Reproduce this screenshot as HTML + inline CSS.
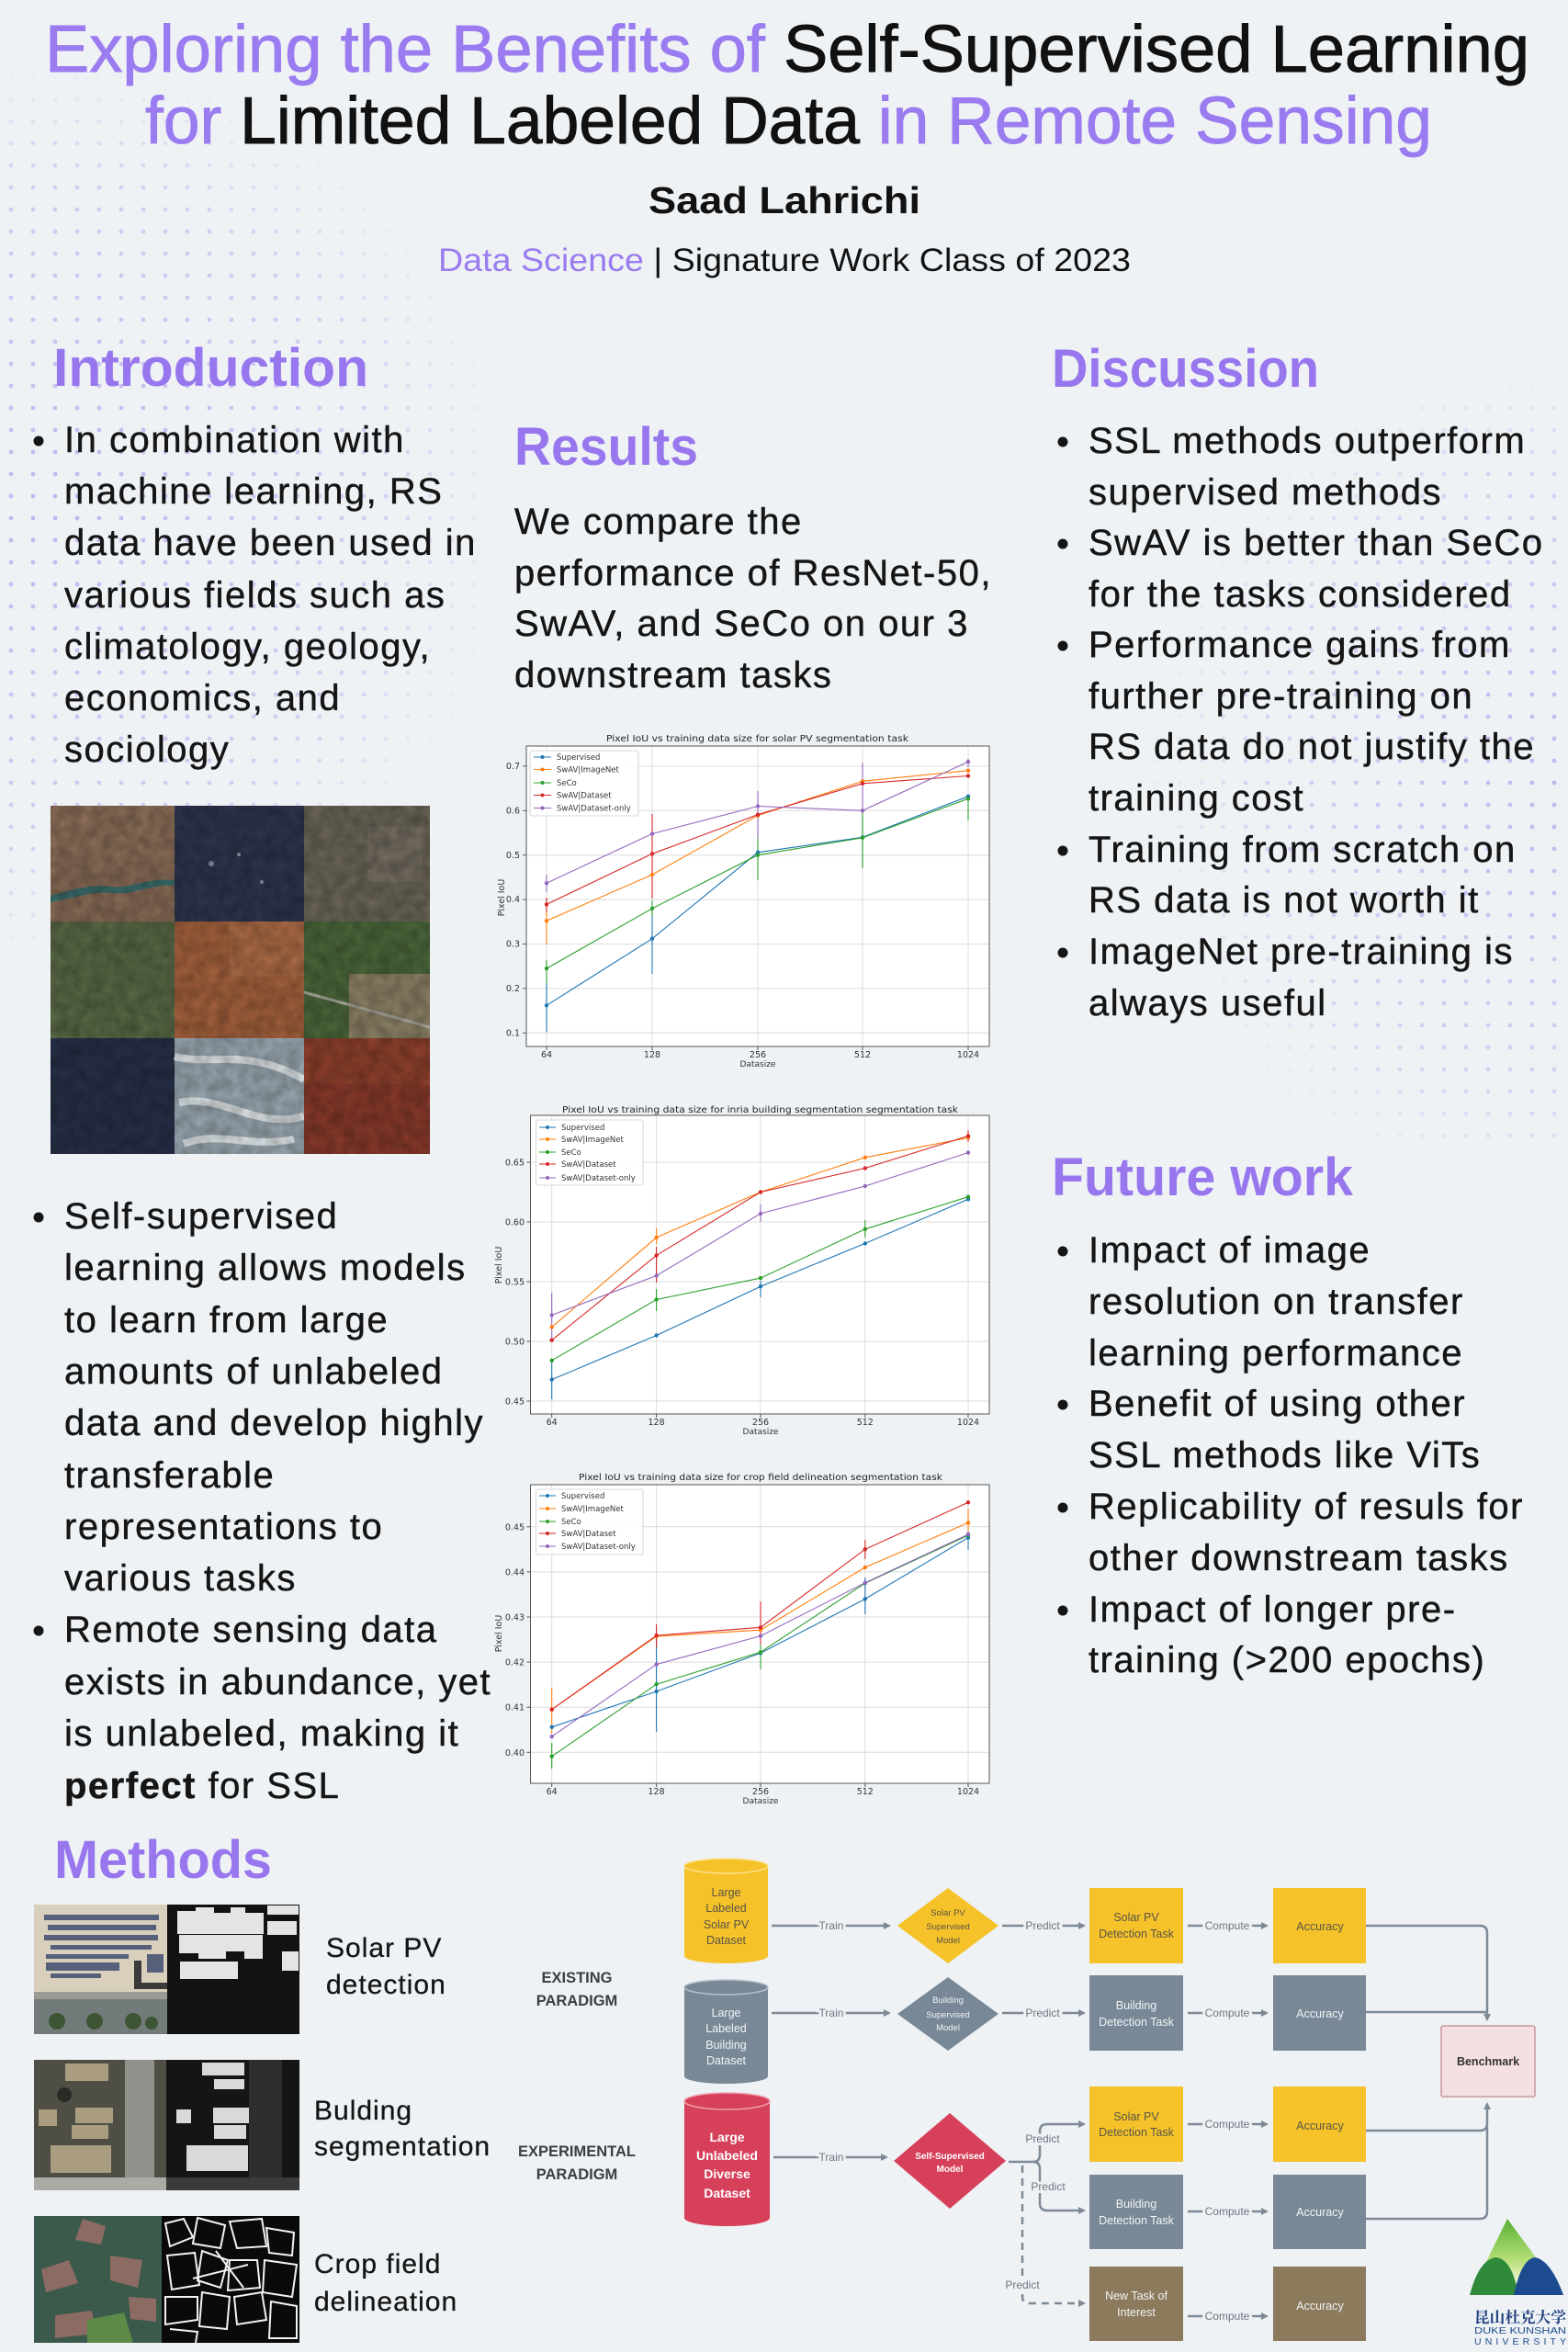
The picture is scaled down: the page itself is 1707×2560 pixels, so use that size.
<!DOCTYPE html>
<html><head><meta charset="utf-8"><style>
html,body{margin:0;padding:0;background:#eef2f5;}
svg{display:block;}
.b{font-family:"Liberation Sans",sans-serif;font-size:40px;letter-spacing:1.5px;fill:#151515;stroke:#151515;stroke-width:0.45px;}
.h{font-family:"Liberation Sans",sans-serif;font-size:58px;font-weight:bold;fill:#9877ee;}
.ax{font-family:"DejaVu Sans","Liberation Sans",sans-serif;font-size:9.5px;fill:#333;}
.lg{font-family:"DejaVu Sans","Liberation Sans",sans-serif;font-size:8.5px;fill:#333;}
.ti{font-family:"DejaVu Sans","Liberation Sans",sans-serif;font-size:9.5px;fill:#222;}
.f{font-family:"Liberation Sans Narrow","Liberation Sans",sans-serif;font-size:12.5px;text-anchor:middle;}
.fl{font-family:"Liberation Sans Narrow","Liberation Sans",sans-serif;font-size:12px;text-anchor:middle;fill:#6b7580;stroke:#eef2f5;stroke-width:6px;paint-order:stroke;}
.fd{font-family:"Liberation Sans Narrow","Liberation Sans",sans-serif;font-size:9.5px;text-anchor:middle;}
.par{font-family:"Liberation Sans Narrow","Liberation Sans",sans-serif;font-size:16.5px;font-weight:bold;text-anchor:middle;fill:#3a3f45;}
.m{font-family:"Liberation Sans",sans-serif;font-size:30px;letter-spacing:1px;fill:#151515;stroke:#151515;stroke-width:0.3px;}
</style></head><body>
<svg width="1707" height="2560" viewBox="0 0 1707 2560" xmlns="http://www.w3.org/2000/svg">
<defs>
<pattern id="dots" width="24" height="24" patternUnits="userSpaceOnUse"><circle cx="12" cy="12" r="2.4" fill="#bfb6ef"/></pattern>
<radialGradient id="mg1" cx="60" cy="560" r="500" gradientUnits="userSpaceOnUse"><stop offset="0" stop-color="#fff" stop-opacity="1"/><stop offset="0.7" stop-color="#fff" stop-opacity="0.6"/><stop offset="1" stop-color="#fff" stop-opacity="0"/></radialGradient>
<radialGradient id="mg2" cx="1707" cy="850" r="470" gradientUnits="userSpaceOnUse"><stop offset="0" stop-color="#fff" stop-opacity="1"/><stop offset="0.7" stop-color="#fff" stop-opacity="0.55"/><stop offset="1" stop-color="#fff" stop-opacity="0"/></radialGradient>
<mask id="mk1"><rect width="1707" height="2560" fill="url(#mg1)"/></mask>
<mask id="mk2"><rect width="1707" height="2560" fill="url(#mg2)"/></mask>
<marker id="ah" markerWidth="8" markerHeight="8" refX="6" refY="4" orient="auto" markerUnits="userSpaceOnUse"><path d="M0,0 L8,4 L0,8 z" fill="#7d8a96"/></marker>
<linearGradient id="lgr" x1="0" y1="0" x2="0" y2="1"><stop offset="0" stop-color="#57b032"/><stop offset="0.55" stop-color="#b8e07a"/><stop offset="0.85" stop-color="#f4f8d8"/></linearGradient>
<filter id="noise" x="0" y="0" width="1" height="1"><feTurbulence type="fractalNoise" baseFrequency="0.08" numOctaves="2" seed="3"/><feColorMatrix type="matrix" values="0 0 0 0 0  0 0 0 0 0  0 0 0 0 0  0 0 0 0.35 0"/><feComposite in2="SourceGraphic" operator="in"/></filter>
</defs>
<rect width="1707" height="2560" fill="#eef2f5"/>
<rect x="0" y="80" width="560" height="1000" fill="url(#dots)" mask="url(#mk1)"/>
<rect x="1200" y="420" width="507" height="820" fill="url(#dots)" mask="url(#mk2)"/>

<!-- Title -->
<text x="49" y="78" font-family="Liberation Sans, sans-serif" font-size="72" textLength="1616" lengthAdjust="spacingAndGlyphs" stroke-width="0.9"><tspan fill="#9b7cf0" stroke="#9b7cf0">Exploring the Benefits of </tspan><tspan fill="#111" stroke="#111">Self-Supervised Learning</tspan></text>
<text x="158" y="156" font-family="Liberation Sans, sans-serif" font-size="72" textLength="1401" lengthAdjust="spacingAndGlyphs" stroke-width="0.9"><tspan fill="#9b7cf0" stroke="#9b7cf0">for </tspan><tspan fill="#111" stroke="#111">Limited Labeled Data </tspan><tspan fill="#9b7cf0" stroke="#9b7cf0">in Remote Sensing</tspan></text>
<text x="706" y="232" font-family="Liberation Sans, sans-serif" font-size="41" font-weight="bold" fill="#111" textLength="296" lengthAdjust="spacingAndGlyphs">Saad Lahrichi</text>
<text x="477" y="295" font-family="Liberation Sans, sans-serif" font-size="35" textLength="754" lengthAdjust="spacingAndGlyphs"><tspan fill="#9b7cf0">Data Science </tspan><tspan fill="#111">| Signature Work Class of 2023</tspan></text>

<!-- Headings -->
<text class="h" x="58" y="420" textLength="343" lengthAdjust="spacingAndGlyphs">Introduction</text>
<text class="h" x="1145" y="421" textLength="291" lengthAdjust="spacingAndGlyphs">Discussion</text>
<text class="h" x="560" y="506" textLength="200" lengthAdjust="spacingAndGlyphs">Results</text>
<text class="h" x="1145" y="1301" textLength="328" lengthAdjust="spacingAndGlyphs">Future work</text>
<text class="h" x="59" y="2044" textLength="237" lengthAdjust="spacingAndGlyphs">Methods</text>

<!-- Intro block 1 -->
<circle cx="42" cy="480" r="5.5" fill="#151515"/>
<text class="b" x="70" y="492">In combination with</text>
<text class="b" x="70" y="548">machine learning, RS</text>
<text class="b" x="70" y="604">data have been used in</text>
<text class="b" x="70" y="661">various fields such as</text>
<text class="b" x="70" y="717">climatology, geology,</text>
<text class="b" x="70" y="773">economics, and</text>
<text class="b" x="70" y="829">sociology</text>

<!-- Intro image grid -->
<g>
<rect x="55" y="877" width="135" height="126" fill="#8b6d58"/>
<rect x="55" y="877" width="135" height="60" fill="#93745c" opacity="0.7"/>
<path d="M55,975 C80,968 100,962 120,965 C140,968 160,955 190,958 L190,964 C165,962 145,975 120,972 C100,970 80,978 55,982 z" fill="#3b6e6c"/>
<rect x="190" y="877" width="141" height="126" fill="#2f3650"/>
<circle cx="230" cy="940" r="3" fill="#8890a8"/><circle cx="260" cy="930" r="2" fill="#9aa0b5"/><circle cx="285" cy="960" r="2" fill="#8890a8"/>
<rect x="331" y="877" width="137" height="126" fill="#6e685a"/>
<rect x="400" y="900" width="60" height="60" fill="#7d776a" opacity="0.6"/>
<rect x="55" y="1003" width="135" height="127" fill="#5b6b47"/>
<rect x="190" y="1003" width="141" height="127" fill="#a8633e"/>
<rect x="250" y="1003" width="81" height="60" fill="#b8774f" opacity="0.6"/>
<rect x="331" y="1003" width="137" height="127" fill="#4d6a3c"/>
<rect x="380" y="1060" width="88" height="70" fill="#8f8468"/>
<path d="M331,1080 L468,1118" stroke="#b0aea4" stroke-width="3"/>
<rect x="55" y="1130" width="135" height="126" fill="#28314a"/>
<rect x="190" y="1130" width="141" height="126" fill="#9eacb6"/>
<path d="M190,1150 C230,1160 270,1140 331,1175 M195,1200 C240,1190 280,1230 331,1215 M200,1245 C240,1230 270,1250 320,1240" stroke="#e6ecf0" stroke-width="8" fill="none"/>
<rect x="331" y="1130" width="137" height="126" fill="#8c3b2c"/>
<rect x="331" y="1130" width="137" height="50" fill="#98472f" opacity="0.6"/>
<rect x="55" y="877" width="413" height="379" fill="#000" filter="url(#noise)"/>
</g>

<!-- Intro block 2 -->
<circle cx="42" cy="1325" r="5.5" fill="#151515"/>
<text class="b" x="70" y="1337">Self-supervised</text>
<text class="b" x="70" y="1393">learning allows models</text>
<text class="b" x="70" y="1450">to learn from large</text>
<text class="b" x="70" y="1506">amounts of unlabeled</text>
<text class="b" x="70" y="1562">data and develop highly</text>
<text class="b" x="70" y="1619">transferable</text>
<text class="b" x="70" y="1675">representations to</text>
<text class="b" x="70" y="1731">various tasks</text>
<circle cx="42" cy="1775" r="5.5" fill="#151515"/>
<text class="b" x="70" y="1787">Remote sensing data</text>
<text class="b" x="70" y="1844">exists in abundance, yet</text>
<text class="b" x="70" y="1900">is unlabeled, making it</text>
<text class="b" x="70" y="1957"><tspan font-weight="bold">perfect</tspan> for SSL</text>

<!-- Results text -->
<text class="b" x="560" y="581">We compare the</text>
<text class="b" x="560" y="637">performance of ResNet-50,</text>
<text class="b" x="560" y="692">SwAV, and SeCo on our 3</text>
<text class="b" x="560" y="748">downstream tasks</text>

<!-- Discussion -->
<g>
<circle cx="1157" cy="481" r="5.5" fill="#151515"/>
<text class="b" x="1185" y="493">SSL methods outperform</text>
<text class="b" x="1185" y="549">supervised methods</text>
<circle cx="1157" cy="592" r="5.5" fill="#151515"/>
<text class="b" x="1185" y="604">SwAV is better than SeCo</text>
<text class="b" x="1185" y="660">for the tasks considered</text>
<circle cx="1157" cy="703" r="5.5" fill="#151515"/>
<text class="b" x="1185" y="715">Performance gains from</text>
<text class="b" x="1185" y="771">further pre-training on</text>
<text class="b" x="1185" y="826">RS data do not justify the</text>
<text class="b" x="1185" y="882">training cost</text>
<circle cx="1157" cy="926" r="5.5" fill="#151515"/>
<text class="b" x="1185" y="938">Training from scratch on</text>
<text class="b" x="1185" y="993">RS data is not worth it</text>
<circle cx="1157" cy="1037" r="5.5" fill="#151515"/>
<text class="b" x="1185" y="1049">ImageNet pre-training is</text>
<text class="b" x="1185" y="1105">always useful</text>
</g>

<!-- Future work -->
<g>
<circle cx="1157" cy="1362" r="5.5" fill="#151515"/>
<text class="b" x="1185" y="1374">Impact of image</text>
<text class="b" x="1185" y="1430">resolution on transfer</text>
<text class="b" x="1185" y="1486">learning performance</text>
<circle cx="1157" cy="1529" r="5.5" fill="#151515"/>
<text class="b" x="1185" y="1541">Benefit of using other</text>
<text class="b" x="1185" y="1597">SSL methods like ViTs</text>
<circle cx="1157" cy="1641" r="5.5" fill="#151515"/>
<text class="b" x="1185" y="1653">Replicability of resuls for</text>
<text class="b" x="1185" y="1709">other downstream tasks</text>
<circle cx="1157" cy="1753" r="5.5" fill="#151515"/>
<text class="b" x="1185" y="1765">Impact of longer pre-</text>
<text class="b" x="1185" y="1820">training (&gt;200 epochs)</text>
</g>

<!-- ============ CHART 1 ============ -->
<g>
<text class="ti" x="660" y="807" textLength="329" lengthAdjust="spacingAndGlyphs">Pixel IoU vs training data size for solar PV segmentation task</text>
<rect x="573" y="812" width="504" height="327" fill="#fff"/>
<g stroke="#dcdcdc" stroke-width="1">
<line x1="573" x2="1077" y1="1124.3" y2="1124.3"/><line x1="573" x2="1077" y1="1075.9" y2="1075.9"/><line x1="573" x2="1077" y1="1027.5" y2="1027.5"/><line x1="573" x2="1077" y1="979.1" y2="979.1"/><line x1="573" x2="1077" y1="930.7" y2="930.7"/><line x1="573" x2="1077" y1="882.3" y2="882.3"/><line x1="573" x2="1077" y1="833.9" y2="833.9"/>
<line y1="812" y2="1139" x1="595" x2="595"/><line y1="812" y2="1139" x1="710" x2="710"/><line y1="812" y2="1139" x1="825" x2="825"/><line y1="812" y2="1139" x1="939" x2="939"/><line y1="812" y2="1139" x1="1054" x2="1054"/>
</g>
<rect x="573" y="812" width="504" height="327" fill="none" stroke="#555" stroke-width="1"/>
<g stroke="#555" stroke-width="1">
<line x1="569" x2="573" y1="1124.3" y2="1124.3"/><line x1="569" x2="573" y1="1075.9" y2="1075.9"/><line x1="569" x2="573" y1="1027.5" y2="1027.5"/><line x1="569" x2="573" y1="979.1" y2="979.1"/><line x1="569" x2="573" y1="930.7" y2="930.7"/><line x1="569" x2="573" y1="882.3" y2="882.3"/><line x1="569" x2="573" y1="833.9" y2="833.9"/>
<line y1="1139" y2="1143" x1="595" x2="595"/><line y1="1139" y2="1143" x1="710" x2="710"/><line y1="1139" y2="1143" x1="825" x2="825"/><line y1="1139" y2="1143" x1="939" x2="939"/><line y1="1139" y2="1143" x1="1054" x2="1054"/>
</g>
<g class="ax" text-anchor="end">
<text x="566" y="1127.5">0.1</text><text x="566" y="1079">0.2</text><text x="566" y="1030.5">0.3</text><text x="566" y="982">0.4</text><text x="566" y="934">0.5</text><text x="566" y="885.5">0.6</text><text x="566" y="837">0.7</text>
</g>
<g class="ax" text-anchor="middle">
<text x="595" y="1151">64</text><text x="710" y="1151">128</text><text x="825" y="1151">256</text><text x="939" y="1151">512</text><text x="1054" y="1151">1024</text>
<text x="825" y="1161" font-size="9">Datasize</text>
</g>
<text class="ax" font-size="9" text-anchor="middle" transform="translate(549,977) rotate(-90)">Pixel IoU</text>
<g stroke-width="1.1">
<line x1="595" x2="595" y1="1070" y2="1123" stroke="#1f77b4"/>
<line x1="595" x2="595" y1="980" y2="1028" stroke="#ff7f0e"/>
<line x1="595" x2="595" y1="952" y2="971" stroke="#9467bd"/>
<line x1="595" x2="595" y1="1045" y2="1070" stroke="#2ca02c"/>
<line x1="595" x2="595" y1="977" y2="993" stroke="#d62728"/>
<line x1="710" x2="710" y1="993" y2="1060" stroke="#1f77b4"/>
<line x1="710" x2="710" y1="886" y2="978" stroke="#d62728"/>
<line x1="710" x2="710" y1="980" y2="997" stroke="#2ca02c"/>
<line x1="825" x2="825" y1="861" y2="913" stroke="#9467bd"/>
<line x1="825" x2="825" y1="913" y2="958" stroke="#2ca02c"/>
<line x1="939" x2="939" y1="830" y2="945" stroke="#9467bd"/>
<line x1="939" x2="939" y1="880" y2="945" stroke="#2ca02c"/>
<line x1="1054" x2="1054" y1="867" y2="893" stroke="#2ca02c"/>
<line x1="1054" x2="1054" y1="826" y2="835" stroke="#9467bd"/>
</g>
<g fill="none" stroke-width="1.1">
<polyline stroke="#1f77b4" points="595,1094.3 710,1021.7 825,927.8 939,911.3 1054,866.8"/>
<polyline stroke="#ff7f0e" points="595,1002.3 710,952 825,887.6 939,850.3 1054,838.7"/>
<polyline stroke="#2ca02c" points="595,1054.1 710,988.8 825,930.7 939,911.8 1054,869.3"/>
<polyline stroke="#d62728" points="595,984.4 710,929.3 825,886.7 939,852.8 1054,844.5"/>
<polyline stroke="#9467bd" points="595,961.2 710,907.5 825,877.5 939,882.3 1054,829.1"/>
</g>
<g>
<g fill="#1f77b4"><circle cx="595" cy="1094.3" r="2.2"/><circle cx="710" cy="1021.7" r="2.2"/><circle cx="825" cy="927.8" r="2.2"/><circle cx="939" cy="911.3" r="2.2"/><circle cx="1054" cy="866.8" r="2.2"/></g>
<g fill="#ff7f0e"><circle cx="595" cy="1002.3" r="2.2"/><circle cx="710" cy="952" r="2.2"/><circle cx="825" cy="887.6" r="2.2"/><circle cx="939" cy="850.3" r="2.2"/><circle cx="1054" cy="838.7" r="2.2"/></g>
<g fill="#2ca02c"><circle cx="595" cy="1054.1" r="2.2"/><circle cx="710" cy="988.8" r="2.2"/><circle cx="825" cy="930.7" r="2.2"/><circle cx="939" cy="911.8" r="2.2"/><circle cx="1054" cy="869.3" r="2.2"/></g>
<g fill="#d62728"><circle cx="595" cy="984.4" r="2.2"/><circle cx="710" cy="929.3" r="2.2"/><circle cx="825" cy="886.7" r="2.2"/><circle cx="939" cy="852.8" r="2.2"/><circle cx="1054" cy="844.5" r="2.2"/></g>
<g fill="#9467bd"><circle cx="595" cy="961.2" r="2.2"/><circle cx="710" cy="907.5" r="2.2"/><circle cx="825" cy="877.5" r="2.2"/><circle cx="939" cy="882.3" r="2.2"/><circle cx="1054" cy="829.1" r="2.2"/></g>
</g>
<rect x="577" y="817" width="118" height="71" rx="2" fill="#fff" fill-opacity="0.85" stroke="#ccc" stroke-width="0.8"/>
<g stroke-width="1.1">
<line x1="581" x2="600" y1="824" y2="824" stroke="#1f77b4"/><circle cx="590.5" cy="824" r="2" fill="#1f77b4"/>
<line x1="581" x2="600" y1="837.5" y2="837.5" stroke="#ff7f0e"/><circle cx="590.5" cy="837.5" r="2" fill="#ff7f0e"/>
<line x1="581" x2="600" y1="852" y2="852" stroke="#2ca02c"/><circle cx="590.5" cy="852" r="2" fill="#2ca02c"/>
<line x1="581" x2="600" y1="865.5" y2="865.5" stroke="#d62728"/><circle cx="590.5" cy="865.5" r="2" fill="#d62728"/>
<line x1="581" x2="600" y1="879.5" y2="879.5" stroke="#9467bd"/><circle cx="590.5" cy="879.5" r="2" fill="#9467bd"/>
</g>
<g class="lg"><text x="606" y="827">Supervised</text><text x="606" y="840.5">SwAV|ImageNet</text><text x="606" y="855">SeCo</text><text x="606" y="868.5">SwAV|Dataset</text><text x="606" y="882.5">SwAV|Dataset-only</text></g>
</g>

<!-- ============ CHART 2 ============ -->
<g>
<text class="ti" x="612" y="1211" textLength="431" lengthAdjust="spacingAndGlyphs">Pixel IoU vs training data size for inria building segmentation segmentation task</text>
<rect x="577.5" y="1214" width="499.5" height="325" fill="#fff"/>
<g stroke="#dcdcdc" stroke-width="1">
<line x1="577.5" x2="1077" y1="1525" y2="1525"/><line x1="577.5" x2="1077" y1="1460" y2="1460"/><line x1="577.5" x2="1077" y1="1395" y2="1395"/><line x1="577.5" x2="1077" y1="1330" y2="1330"/><line x1="577.5" x2="1077" y1="1265" y2="1265"/>
<line y1="1214" y2="1539" x1="600.7" x2="600.7"/><line y1="1214" y2="1539" x1="714.6" x2="714.6"/><line y1="1214" y2="1539" x1="828" x2="828"/><line y1="1214" y2="1539" x1="941.8" x2="941.8"/><line y1="1214" y2="1539" x1="1054" x2="1054"/>
</g>
<rect x="577.5" y="1214" width="499.5" height="325" fill="none" stroke="#555" stroke-width="1"/>
<g stroke="#555" stroke-width="1">
<line x1="573.5" x2="577.5" y1="1525" y2="1525"/><line x1="573.5" x2="577.5" y1="1460" y2="1460"/><line x1="573.5" x2="577.5" y1="1395" y2="1395"/><line x1="573.5" x2="577.5" y1="1330" y2="1330"/><line x1="573.5" x2="577.5" y1="1265" y2="1265"/>
<line y1="1539" y2="1543" x1="600.7" x2="600.7"/><line y1="1539" y2="1543" x1="714.6" x2="714.6"/><line y1="1539" y2="1543" x1="828" x2="828"/><line y1="1539" y2="1543" x1="941.8" x2="941.8"/><line y1="1539" y2="1543" x1="1054" x2="1054"/>
</g>
<g class="ax" text-anchor="end">
<text x="571" y="1528.5">0.45</text><text x="571" y="1463.5">0.50</text><text x="571" y="1398.5">0.55</text><text x="571" y="1333.5">0.60</text><text x="571" y="1268.5">0.65</text>
</g>
<g class="ax" text-anchor="middle">
<text x="600.7" y="1551">64</text><text x="714.6" y="1551">128</text><text x="828" y="1551">256</text><text x="941.8" y="1551">512</text><text x="1054" y="1551">1024</text>
<text x="828" y="1561" font-size="9">Datasize</text>
</g>
<text class="ax" font-size="9" text-anchor="middle" transform="translate(546,1377) rotate(-90)">Pixel IoU</text>
<g stroke-width="1.1">
<line x1="600.7" x2="600.7" y1="1407" y2="1460" stroke="#9467bd"/>
<line x1="600.7" x2="600.7" y1="1480" y2="1523" stroke="#1f77b4"/>
<line x1="714.6" x2="714.6" y1="1337" y2="1354" stroke="#ff7f0e"/>
<line x1="714.6" x2="714.6" y1="1357" y2="1396" stroke="#d62728"/>
<line x1="714.6" x2="714.6" y1="1403" y2="1427" stroke="#2ca02c"/>
<line x1="828" x2="828" y1="1311" y2="1330" stroke="#9467bd"/>
<line x1="828" x2="828" y1="1394" y2="1412" stroke="#1f77b4"/>
<line x1="941.8" x2="941.8" y1="1328" y2="1347" stroke="#2ca02c"/>
<line x1="1054" x2="1054" y1="1230" y2="1243" stroke="#d62728"/>
</g>
<g fill="none" stroke-width="1.1">
<polyline stroke="#1f77b4" points="600.7,1501.6 714.6,1453.5 828,1400.2 941.8,1353.4 1054,1305.3"/>
<polyline stroke="#ff7f0e" points="600.7,1444.4 714.6,1346.9 828,1297.5 941.8,1259.8 1054,1238.4"/>
<polyline stroke="#2ca02c" points="600.7,1480.8 714.6,1414.5 828,1391.1 941.8,1337.8 1054,1302.7"/>
<polyline stroke="#d62728" points="600.7,1458.7 714.6,1366.4 828,1297.5 941.8,1271.5 1054,1236.4"/>
<polyline stroke="#9467bd" points="600.7,1431.4 714.6,1388.5 828,1320.9 941.8,1291 1054,1254.6"/>
</g>
<g fill="#1f77b4"><circle cx="600.7" cy="1501.6" r="2.2"/><circle cx="714.6" cy="1453.5" r="2.2"/><circle cx="828" cy="1400.2" r="2.2"/><circle cx="941.8" cy="1353.4" r="2.2"/><circle cx="1054" cy="1305.3" r="2.2"/></g>
<g fill="#ff7f0e"><circle cx="600.7" cy="1444.4" r="2.2"/><circle cx="714.6" cy="1346.9" r="2.2"/><circle cx="828" cy="1297.5" r="2.2"/><circle cx="941.8" cy="1259.8" r="2.2"/><circle cx="1054" cy="1238.4" r="2.2"/></g>
<g fill="#2ca02c"><circle cx="600.7" cy="1480.8" r="2.2"/><circle cx="714.6" cy="1414.5" r="2.2"/><circle cx="828" cy="1391.1" r="2.2"/><circle cx="941.8" cy="1337.8" r="2.2"/><circle cx="1054" cy="1302.7" r="2.2"/></g>
<g fill="#d62728"><circle cx="600.7" cy="1458.7" r="2.2"/><circle cx="714.6" cy="1366.4" r="2.2"/><circle cx="828" cy="1297.5" r="2.2"/><circle cx="941.8" cy="1271.5" r="2.2"/><circle cx="1054" cy="1236.4" r="2.2"/></g>
<g fill="#9467bd"><circle cx="600.7" cy="1431.4" r="2.2"/><circle cx="714.6" cy="1388.5" r="2.2"/><circle cx="828" cy="1320.9" r="2.2"/><circle cx="941.8" cy="1291" r="2.2"/><circle cx="1054" cy="1254.6" r="2.2"/></g>
<rect x="583.5" y="1219" width="116.5" height="71" rx="2" fill="#fff" fill-opacity="0.85" stroke="#ccc" stroke-width="0.8"/>
<g stroke-width="1.1">
<line x1="587" x2="605" y1="1227" y2="1227" stroke="#1f77b4"/><circle cx="596" cy="1227" r="2" fill="#1f77b4"/>
<line x1="587" x2="605" y1="1240" y2="1240" stroke="#ff7f0e"/><circle cx="596" cy="1240" r="2" fill="#ff7f0e"/>
<line x1="587" x2="605" y1="1254" y2="1254" stroke="#2ca02c"/><circle cx="596" cy="1254" r="2" fill="#2ca02c"/>
<line x1="587" x2="605" y1="1267" y2="1267" stroke="#d62728"/><circle cx="596" cy="1267" r="2" fill="#d62728"/>
<line x1="587" x2="605" y1="1282" y2="1282" stroke="#9467bd"/><circle cx="596" cy="1282" r="2" fill="#9467bd"/>
</g>
<g class="lg"><text x="611" y="1230">Supervised</text><text x="611" y="1243">SwAV|ImageNet</text><text x="611" y="1257">SeCo</text><text x="611" y="1270">SwAV|Dataset</text><text x="611" y="1285">SwAV|Dataset-only</text></g>
</g>

<!-- ============ CHART 3 ============ -->
<g>
<text class="ti" x="630" y="1611" textLength="396" lengthAdjust="spacingAndGlyphs">Pixel IoU vs training data size for crop field delineation segmentation task</text>
<rect x="577.5" y="1616" width="499.5" height="325" fill="#fff"/>
<g stroke="#dcdcdc" stroke-width="1">
<line x1="577.5" x2="1077" y1="1907.3" y2="1907.3"/><line x1="577.5" x2="1077" y1="1858.2" y2="1858.2"/><line x1="577.5" x2="1077" y1="1809.1" y2="1809.1"/><line x1="577.5" x2="1077" y1="1760" y2="1760"/><line x1="577.5" x2="1077" y1="1710.9" y2="1710.9"/><line x1="577.5" x2="1077" y1="1661.8" y2="1661.8"/>
<line y1="1616" y2="1941" x1="600.7" x2="600.7"/><line y1="1616" y2="1941" x1="714.6" x2="714.6"/><line y1="1616" y2="1941" x1="828" x2="828"/><line y1="1616" y2="1941" x1="941.8" x2="941.8"/><line y1="1616" y2="1941" x1="1054" x2="1054"/>
</g>
<rect x="577.5" y="1616" width="499.5" height="325" fill="none" stroke="#555" stroke-width="1"/>
<g stroke="#555" stroke-width="1">
<line x1="573.5" x2="577.5" y1="1907.3" y2="1907.3"/><line x1="573.5" x2="577.5" y1="1858.2" y2="1858.2"/><line x1="573.5" x2="577.5" y1="1809.1" y2="1809.1"/><line x1="573.5" x2="577.5" y1="1760" y2="1760"/><line x1="573.5" x2="577.5" y1="1710.9" y2="1710.9"/><line x1="573.5" x2="577.5" y1="1661.8" y2="1661.8"/>
<line y1="1941" y2="1945" x1="600.7" x2="600.7"/><line y1="1941" y2="1945" x1="714.6" x2="714.6"/><line y1="1941" y2="1945" x1="828" x2="828"/><line y1="1941" y2="1945" x1="941.8" x2="941.8"/><line y1="1941" y2="1945" x1="1054" x2="1054"/>
</g>
<g class="ax" text-anchor="end">
<text x="571" y="1910.8">0.40</text><text x="571" y="1861.7">0.41</text><text x="571" y="1812.6">0.42</text><text x="571" y="1763.5">0.43</text><text x="571" y="1714.4">0.44</text><text x="571" y="1665.3">0.45</text>
</g>
<g class="ax" text-anchor="middle">
<text x="600.7" y="1953">64</text><text x="714.6" y="1953">128</text><text x="828" y="1953">256</text><text x="941.8" y="1953">512</text><text x="1054" y="1953">1024</text>
<text x="828" y="1963" font-size="9">Datasize</text>
</g>
<text class="ax" font-size="9" text-anchor="middle" transform="translate(546,1778) rotate(-90)">Pixel IoU</text>
<g stroke-width="1.1">
<line x1="600.7" x2="600.7" y1="1837" y2="1887" stroke="#ff7f0e"/>
<line x1="600.7" x2="600.7" y1="1897" y2="1925" stroke="#2ca02c"/>
<line x1="714.6" x2="714.6" y1="1783" y2="1885" stroke="#1f77b4"/>
<line x1="714.6" x2="714.6" y1="1768" y2="1793" stroke="#d62728"/>
<line x1="828" x2="828" y1="1743" y2="1790" stroke="#d62728"/>
<line x1="828" x2="828" y1="1790" y2="1817" stroke="#2ca02c"/>
<line x1="941.8" x2="941.8" y1="1717" y2="1757" stroke="#1f77b4"/>
<line x1="941.8" x2="941.8" y1="1676" y2="1697" stroke="#d62728"/>
<line x1="1054" x2="1054" y1="1642" y2="1673" stroke="#ff7f0e"/>
<line x1="1054" x2="1054" y1="1667" y2="1687" stroke="#1f77b4"/>
</g>
<g fill="none" stroke-width="1.1">
<polyline stroke="#1f77b4" points="600.7,1879.8 714.6,1841 828,1799.3 941.8,1740.4 1054,1673.6"/>
<polyline stroke="#ff7f0e" points="600.7,1860.7 714.6,1781.1 828,1774.2 941.8,1706 1054,1657.4"/>
<polyline stroke="#2ca02c" points="600.7,1911.7 714.6,1833.2 828,1798.3 941.8,1723.2 1054,1671.1"/>
<polyline stroke="#d62728" points="600.7,1860.7 714.6,1780.1 828,1771.3 941.8,1686.3 1054,1635.3"/>
<polyline stroke="#9467bd" points="600.7,1890.1 714.6,1811.6 828,1780.6 941.8,1722.7 1054,1670.1"/>
</g>
<g fill="#1f77b4"><circle cx="600.7" cy="1879.8" r="2.2"/><circle cx="714.6" cy="1841" r="2.2"/><circle cx="828" cy="1799.3" r="2.2"/><circle cx="941.8" cy="1740.4" r="2.2"/><circle cx="1054" cy="1673.6" r="2.2"/></g>
<g fill="#ff7f0e"><circle cx="600.7" cy="1860.7" r="2.2"/><circle cx="714.6" cy="1781.1" r="2.2"/><circle cx="828" cy="1774.2" r="2.2"/><circle cx="941.8" cy="1706" r="2.2"/><circle cx="1054" cy="1657.4" r="2.2"/></g>
<g fill="#2ca02c"><circle cx="600.7" cy="1911.7" r="2.2"/><circle cx="714.6" cy="1833.2" r="2.2"/><circle cx="828" cy="1798.3" r="2.2"/><circle cx="941.8" cy="1723.2" r="2.2"/><circle cx="1054" cy="1671.1" r="2.2"/></g>
<g fill="#d62728"><circle cx="600.7" cy="1860.7" r="2.2"/><circle cx="714.6" cy="1780.1" r="2.2"/><circle cx="828" cy="1771.3" r="2.2"/><circle cx="941.8" cy="1686.3" r="2.2"/><circle cx="1054" cy="1635.3" r="2.2"/></g>
<g fill="#9467bd"><circle cx="600.7" cy="1890.1" r="2.2"/><circle cx="714.6" cy="1811.6" r="2.2"/><circle cx="828" cy="1780.6" r="2.2"/><circle cx="941.8" cy="1722.7" r="2.2"/><circle cx="1054" cy="1670.1" r="2.2"/></g>
<rect x="583.5" y="1621" width="116.5" height="71" rx="2" fill="#fff" fill-opacity="0.85" stroke="#ccc" stroke-width="0.8"/>
<g stroke-width="1.1">
<line x1="587" x2="605" y1="1628" y2="1628" stroke="#1f77b4"/><circle cx="596" cy="1628" r="2" fill="#1f77b4"/>
<line x1="587" x2="605" y1="1642" y2="1642" stroke="#ff7f0e"/><circle cx="596" cy="1642" r="2" fill="#ff7f0e"/>
<line x1="587" x2="605" y1="1656" y2="1656" stroke="#2ca02c"/><circle cx="596" cy="1656" r="2" fill="#2ca02c"/>
<line x1="587" x2="605" y1="1669" y2="1669" stroke="#d62728"/><circle cx="596" cy="1669" r="2" fill="#d62728"/>
<line x1="587" x2="605" y1="1683" y2="1683" stroke="#9467bd"/><circle cx="596" cy="1683" r="2" fill="#9467bd"/>
</g>
<g class="lg"><text x="611" y="1631">Supervised</text><text x="611" y="1645">SwAV|ImageNet</text><text x="611" y="1659">SeCo</text><text x="611" y="1672">SwAV|Dataset</text><text x="611" y="1686">SwAV|Dataset-only</text></g>
</g>

<!-- ============ METHODS IMAGES ============ -->
<g>
<rect x="37" y="2073" width="145" height="141" fill="#d8d0bc"/>
<g fill="#56607a">
<rect x="48" y="2084" width="125" height="6"/><rect x="52" y="2095" width="118" height="6"/><rect x="48" y="2106" width="124" height="6"/>
<rect x="55" y="2117" width="110" height="5"/><rect x="50" y="2127" width="90" height="5"/><rect x="50" y="2136" width="80" height="9"/><rect x="55" y="2148" width="55" height="5"/><rect x="160" y="2127" width="18" height="20"/>
</g>
<path d="M146,2134 h8 v24 h28 v7 h-36 z" fill="#3a3a3a"/>
<rect x="37" y="2168" width="145" height="46" fill="#737b7a"/>
<rect x="37" y="2168" width="145" height="8" fill="#9a9c94"/>
<g fill="#3d5535"><circle cx="62" cy="2200" r="9"/><circle cx="103" cy="2200" r="9"/><circle cx="145" cy="2200" r="9"/><circle cx="165" cy="2202" r="7"/></g>
<rect x="182" y="2073" width="144" height="141" fill="#121212"/>
<g fill="#e4e4e4">
<path d="M193,2080 h20 v-4 h20 v6 h18 v-6 h16 v6 h20 v23 h-94 z"/>
<path d="M195,2106 h91 v26 h-20 v-8 h-20 v8 h-30 v-6 h-21 z"/>
<rect x="196" y="2135" width="63" height="19"/>
<rect x="291" y="2074" width="34" height="10"/>
<rect x="291" y="2091" width="32" height="15"/>
<rect x="307" y="2124" width="18" height="21"/>
</g>
</g>
<g>
<rect x="37" y="2242" width="144" height="142" fill="#4e4e44"/>
<rect x="136" y="2242" width="32" height="142" fill="#8f918a"/>
<rect x="37" y="2370" width="144" height="14" fill="#a9aba4"/>
<g fill="#aa9c80">
<rect x="71" y="2246" width="47" height="19"/><rect x="82" y="2294" width="41" height="17"/><rect x="78" y="2313" width="40" height="15"/><rect x="55" y="2335" width="66" height="30"/><rect x="42" y="2296" width="20" height="18"/>
</g>
<circle cx="70" cy="2280" r="8" fill="#2a2a26"/>
<rect x="181" y="2242" width="145" height="142" fill="#151515"/>
<rect x="271" y="2242" width="36" height="142" fill="#2e2e2e"/>
<rect x="181" y="2370" width="145" height="14" fill="#3a3a3a"/>
<g fill="#d9d9d9">
<rect x="220" y="2245" width="46" height="14"/><rect x="233" y="2263" width="33" height="11"/><rect x="192" y="2296" width="16" height="15"/><rect x="232" y="2294" width="39" height="17"/><rect x="233" y="2313" width="35" height="15"/><rect x="203" y="2335" width="67" height="28"/>
</g>
</g>
<g>
<rect x="37" y="2412" width="139" height="138" fill="#3b5a4c"/>
<g fill="#8b6b62">
<path d="M90,2415 l25,8 l-5,20 l-28,-5 z"/><path d="M45,2470 l30,-10 l10,25 l-35,10 z"/><path d="M120,2455 l35,5 l-5,30 l-30,-8 z"/><path d="M60,2520 l40,-5 l5,25 l-45,5 z"/><path d="M140,2500 l30,2 l0,25 l-28,-3 z"/>
</g>
<path d="M95,2525 l40,-8 l10,33 l-50,0 z" fill="#5d8a46"/>
<rect x="176" y="2412" width="150" height="138" fill="#0a0a0a"/>
<g stroke="#f2f2f2" stroke-width="2" fill="none">
<path d="M180,2420 l20,-5 l10,20 l-25,10 z"/><path d="M215,2414 l30,8 l-5,25 l-30,-5 z"/><path d="M250,2418 l35,-3 l5,30 l-32,2 z"/><path d="M290,2425 l30,5 l-2,25 l-25,-3 z"/>
<path d="M182,2455 l30,-3 l5,35 l-30,5 z"/><path d="M220,2450 l28,10 l-8,30 l-25,-8 z"/><path d="M250,2460 l30,0 l3,30 l-35,3 z"/><path d="M288,2460 l35,5 l-5,35 l-32,-5 z"/>
<path d="M180,2500 l35,0 l0,25 l-35,5 z"/><path d="M220,2495 l30,5 l-3,35 l-30,-3 z"/><path d="M255,2500 l30,-5 l5,30 l-32,5 z"/><path d="M295,2505 l28,5 l0,35 l-30,0 z"/>
<path d="M185,2535 l30,3 l-2,12"/><path d="M235,2450 l30,40 M210,2480 l60,-15"/>
</g>
</g>
<text class="m" x="355" y="2130">Solar PV</text>
<text class="m" x="355" y="2170">detection</text>
<text class="m" x="342" y="2307">Bulding</text>
<text class="m" x="342" y="2346">segmentation</text>
<text class="m" x="342" y="2474">Crop field</text>
<text class="m" x="342" y="2515">delineation</text>

<!-- ============ FLOWCHART ============ -->
<g>
<text class="par" x="628" y="2158">EXISTING</text>
<text class="par" x="628" y="2183">PARADIGM</text>
<text class="par" x="628" y="2347">EXPERIMENTAL</text>
<text class="par" x="628" y="2372">PARADIGM</text>

<g stroke="#7d8a96" stroke-width="2.5" fill="none">
<line x1="840" y1="2096" x2="968" y2="2096" marker-end="url(#ah)"/>
<line x1="1091" y1="2096" x2="1180" y2="2096" marker-end="url(#ah)"/>
<line x1="1293" y1="2096" x2="1379" y2="2096" marker-end="url(#ah)"/>
<line x1="840" y1="2191" x2="968" y2="2191" marker-end="url(#ah)"/>
<line x1="1091" y1="2191" x2="1180" y2="2191" marker-end="url(#ah)"/>
<line x1="1293" y1="2191" x2="1379" y2="2191" marker-end="url(#ah)"/>
<line x1="842" y1="2348" x2="965" y2="2348" marker-end="url(#ah)"/>
<path d="M1098,2353 H1125 Q1132,2353 1132,2345 V2320 Q1132,2312 1140,2312 H1180" marker-end="url(#ah)"/>
<path d="M1125,2353 Q1132,2353 1132,2361 V2398 Q1132,2406 1140,2406 H1180" marker-end="url(#ah)"/>
<path d="M1113,2357 V2500 Q1113,2507 1121,2507 H1180" stroke-dasharray="8 6" marker-end="url(#ah)"/>
<line x1="1293" y1="2312" x2="1379" y2="2312" marker-end="url(#ah)"/>
<line x1="1293" y1="2407" x2="1379" y2="2407" marker-end="url(#ah)"/>
<line x1="1293" y1="2521" x2="1379" y2="2521" marker-end="url(#ah)"/>
<path d="M1487,2096 H1611 Q1619,2096 1619,2104 V2198" marker-end="url(#ah)"/>
<path d="M1487,2190 H1619"/>
<path d="M1487,2319 H1611 Q1619,2319 1619,2311 V2290" marker-end="url(#ah)"/>
<path d="M1487,2415 H1611 Q1619,2415 1619,2407 V2315"/>
</g>
<text class="fl" x="905" y="2100">Train</text>
<text class="fl" x="1135" y="2100">Predict</text>
<text class="fl" x="1336" y="2100">Compute</text>
<text class="fl" x="905" y="2195">Train</text>
<text class="fl" x="1135" y="2195">Predict</text>
<text class="fl" x="1336" y="2195">Compute</text>
<text class="fl" x="905" y="2352">Train</text>
<text class="fl" x="1135" y="2332">Predict</text>
<text class="fl" x="1141" y="2384">Predict</text>
<text class="fl" x="1113" y="2491">Predict</text>
<text class="fl" x="1336" y="2316">Compute</text>
<text class="fl" x="1336" y="2411">Compute</text>
<text class="fl" x="1336" y="2525">Compute</text>

<path d="M745,2031 a45.5,8 0 0,1 91,0 v98 a45.5,8 0 0,1 -91,0 z" fill="#f5c22a"/>
<ellipse cx="790.5" cy="2031" rx="45.5" ry="8" fill="none" stroke="#fbe08a" stroke-width="1.5"/>
<path d="M745,2163 a45.5,8 0 0,1 91,0 v97 a45.5,8 0 0,1 -91,0 z" fill="#788896"/>
<ellipse cx="790.5" cy="2163" rx="45.5" ry="8" fill="none" stroke="#b5c0ca" stroke-width="1.5"/>
<path d="M745,2287 a46.5,9 0 0,1 93,0 v127 a46.5,9 0 0,1 -93,0 z" fill="#d6405a"/>
<ellipse cx="791.5" cy="2287" rx="46.5" ry="9" fill="none" stroke="#f0a0ae" stroke-width="1.5"/>
<g class="f" fill="#5a5546"><text x="790.5" y="2064">Large</text><text x="790.5" y="2081">Labeled</text><text x="790.5" y="2099">Solar PV</text><text x="790.5" y="2116">Dataset</text></g>
<g class="f" fill="#f2f4f6"><text x="790.5" y="2195">Large</text><text x="790.5" y="2212">Labeled</text><text x="790.5" y="2230">Building</text><text x="790.5" y="2247">Dataset</text></g>
<g class="f" fill="#fff" font-weight="bold" style="font-size:14px"><text x="791.5" y="2331">Large</text><text x="791.5" y="2351">Unlabeled</text><text x="791.5" y="2371">Diverse</text><text x="791.5" y="2392">Dataset</text></g>

<path d="M1032,2055 L1087,2096 L1032,2137 L977,2096 z" fill="#f5c22a"/>
<path d="M1032,2152 L1087,2192 L1032,2232 L977,2192 z" fill="#788896"/>
<path d="M1034,2300 L1095,2352 L1034,2404 L973,2352 z" fill="#d6405a"/>
<g class="fd" fill="#5a5546"><text x="1032" y="2085">Solar PV</text><text x="1032" y="2100">Supervised</text><text x="1032" y="2115">Model</text></g>
<g class="fd" fill="#f2f4f6"><text x="1032" y="2180">Building</text><text x="1032" y="2196">Supervised</text><text x="1032" y="2210">Model</text></g>
<g class="fd" fill="#fff" font-weight="bold" style="font-size:10px"><text x="1034" y="2350">Self-Supervised</text><text x="1034" y="2364">Model</text></g>

<rect x="1186" y="2055" width="102" height="82" fill="#f5c22a"/>
<rect x="1386" y="2055" width="101" height="82" fill="#f5c22a"/>
<rect x="1186" y="2150" width="102" height="82" fill="#788896"/>
<rect x="1386" y="2150" width="101" height="82" fill="#788896"/>
<rect x="1186" y="2271" width="102" height="82" fill="#f5c22a"/>
<rect x="1386" y="2271" width="101" height="82" fill="#f5c22a"/>
<rect x="1186" y="2367" width="102" height="81" fill="#788896"/>
<rect x="1386" y="2367" width="101" height="81" fill="#788896"/>
<rect x="1186" y="2467" width="102" height="81" fill="#8b7a5c"/>
<rect x="1386" y="2467" width="101" height="81" fill="#8b7a5c"/>
<rect x="1569" y="2205" width="102" height="77" rx="2" fill="#f4e0e1" stroke="#c9979c" stroke-width="1.5"/>
<g class="f" fill="#5a5546"><text x="1237" y="2091">Solar PV</text><text x="1237" y="2109">Detection Task</text><text x="1437" y="2101">Accuracy</text>
<text x="1237" y="2308">Solar PV</text><text x="1237" y="2325">Detection Task</text><text x="1437" y="2318">Accuracy</text></g>
<g class="f" fill="#f2f4f6"><text x="1237" y="2187">Building</text><text x="1237" y="2205">Detection Task</text><text x="1437" y="2196">Accuracy</text>
<text x="1237" y="2403">Building</text><text x="1237" y="2421">Detection Task</text><text x="1437" y="2412">Accuracy</text>
<text x="1237" y="2503">New Task of</text><text x="1237" y="2521">Interest</text><text x="1437" y="2514">Accuracy</text></g>
<text class="f" x="1620" y="2248" fill="#333" font-weight="bold">Benchmark</text>
</g>

<!-- Logo -->
<g>
<path d="M1641,2415 L1702,2498 L1600,2498 Z" fill="url(#lgr)"/>
<path d="M1600,2498 Q1610,2460 1628,2457 Q1646,2458 1653,2498 Z" fill="#2f8a3b"/>
<path d="M1648,2498 Q1656,2459 1671,2457 Q1688,2460 1702,2498 Z" fill="#1d4b90"/>
<text x="1605" y="2528" font-family="Noto Serif CJK SC, serif" font-size="16.5" font-weight="bold" fill="#1d3f7d" textLength="100" lengthAdjust="spacingAndGlyphs">昆山杜克大学</text>
<text x="1605" y="2540" font-family="Liberation Sans, sans-serif" font-size="10.5" fill="#1d4b8a" textLength="100" lengthAdjust="spacingAndGlyphs">DUKE KUNSHAN</text>
<text x="1605" y="2552" font-family="Liberation Sans, sans-serif" font-size="10.5" fill="#1d4b8a" textLength="100" lengthAdjust="spacing">UNIVERSITY</text>
</g>
</svg>
</body></html>
